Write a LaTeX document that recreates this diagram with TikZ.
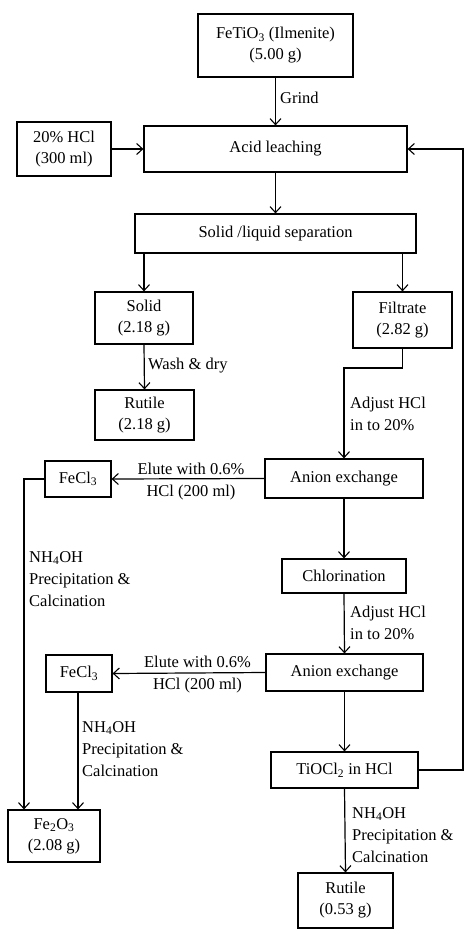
\documentclass[tikz,border=0pt]{standalone}
\usepackage{fontspec}
\setmainfont{Liberation Serif}
\usetikzlibrary{arrows.meta}
\begin{document}
\begin{tikzpicture}[x=1pt,y=-1pt,
  every node/.style={font=\fontsize{16.5}{21}\selectfont},
  box/.style={draw,line width=1.2pt,align=center,inner sep=0pt},
  lbl/.style={align=left,inner sep=0pt,anchor=west,font=\fontsize{16.5}{22}\selectfont},
  clbl/.style={align=center,inner sep=0pt,font=\fontsize{16.5}{22}\selectfont},
  arr/.style={line width=1.2pt,-{Straight Barb[length=6pt,width=11pt,line width=1.1pt]}},
  ln/.style={line width=1.2pt}]
\useasboundingbox (0,0) rectangle (474,934);
% boxes
\node[box,minimum width=155,minimum height=63] (feti) at (275.5,45.5) {FeTiO\textsubscript{3} (Ilmenite)\\(5.00 g)};
\node[box,minimum width=94,minimum height=54] (hcl) at (64,149) {20\% HCl\\(300 ml)};
\node[box,minimum width=263,minimum height=46] (acid) at (275.5,149) {Acid leaching};
\node[box,minimum width=281,minimum height=39] (sep) at (275.5,233.5) {Solid /liquid separation};
\node[box,minimum width=98,minimum height=52] (solid) at (144,318) {Solid\\(2.18 g)};
\node[box,minimum width=99,minimum height=56] (filt) at (402.5,320) {Filtrate\\(2.82 g)};
\node[box,minimum width=99,minimum height=50] (rut1) at (144.5,415) {Rutile\\(2.18 g)};
\node[box,minimum width=158,minimum height=39] (an1) at (344,478.5) {Anion exchange};
\node[box,minimum width=66,minimum height=36] (fecl1) at (78,479) {FeCl\textsubscript{3}};
\node[box,minimum width=124,minimum height=34] (chl) at (344,576) {Chlorination};
\node[box,minimum width=157,minimum height=37] (an2) at (344.5,672.5) {Anion exchange};
\node[box,minimum width=66,minimum height=37] (fecl2) at (79,673.5) {FeCl\textsubscript{3}};
\node[box,minimum width=92,minimum height=52] (fe2o3) at (54,836) {Fe\textsubscript{2}O\textsubscript{3}\\(2.08 g)};
\node[box,minimum width=147,minimum height=36] (tio) at (344.5,770) {TiOCl\textsubscript{2} in HCl};
\node[box,minimum width=95,minimum height=55] (rut2) at (345.5,900.5) {Rutile\\(0.53 g)};
% connectors
\draw[arr] (feti.south) -- (acid.north);
\draw[arr] (hcl.east) -- (acid.west);
\draw[arr] (acid.south) -- (sep.north);
\draw[arr] (solid.north |- sep.south) -- (solid.north);
\draw[arr] (filt.north |- sep.south) -- (filt.north);
\draw[arr] (solid.south) -- (rut1.north);
\coordinate (f1) at (402.5,368);
\draw[arr] (filt.south) -- (f1) -| (an1.north);
\draw[arr] (an1.west) -- (fecl1.east);
\coordinate (c1) at (24,479);
\draw[arr] (fecl1.west) -- (c1) -- (c1 |- fe2o3.north);
\draw[arr] (an1.south) -- (chl.north);
\draw[arr] (chl.south) -- (an2.north);
\draw[arr] (an2.west) -- (fecl2.east);
\draw[arr] ([xshift=-1]fecl2.south) -- ([xshift=-1]fecl2.south |- fe2o3.north);
\draw[arr] (an2.south) -- (tio.north);
\draw[arr] (tio.south) -- (rut2.north);
\coordinate (r1) at (463,770);
\coordinate (r2) at (463,149);
\draw[arr] (tio.east) -- (r1) -- (r2) -- (acid.east);
% labels
\node[lbl] (lgrind) at (280,98) {Grind};
\node[lbl] (lwash) at (148,366) {Wash \& dry};
\node[lbl] (ladj1) at (350,414) {Adjust HCl\\in to 20\%};
\node[clbl] (lel1) at (191,482) {Elute with 0.6\%\\HCl (200 ml)};
\node[lbl] (lnh1) at (29,579) {NH\textsubscript{4}OH\\Precipitation \&\\Calcination};
\node[lbl] (ladj2) at (350,623) {Adjust HCl\\in to 20\%};
\node[clbl] (lel2) at (197.5,675) {Elute with 0.6\%\\HCl (200 ml)};
\node[lbl] (lnh2) at (82,749) {NH\textsubscript{4}OH\\Precipitation \&\\Calcination};
\node[lbl] (lnh3) at (352,835) {NH\textsubscript{4}OH\\Precipitation \&\\Calcination};
\end{tikzpicture}
\end{document}
